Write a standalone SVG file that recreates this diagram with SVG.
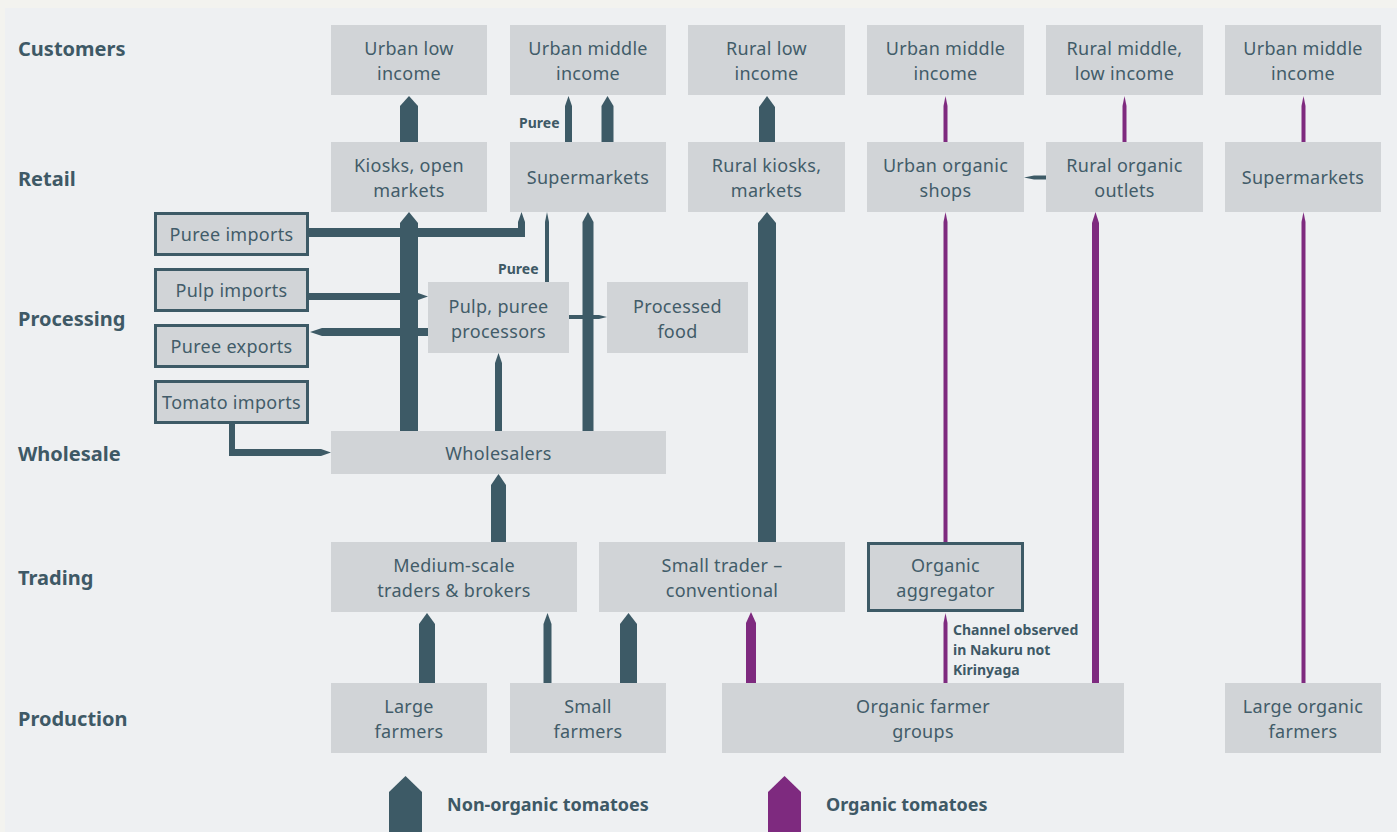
<svg xmlns="http://www.w3.org/2000/svg" width="1397" height="832" viewBox="0 0 1397 832">
<style>
.box{fill:#d1d4d7}
.bbox{fill:#d1d4d7;stroke:#3d5a66;stroke-width:3}
.t{font-family:"Noto Sans","Open Sans","DejaVu Sans",sans-serif;font-size:18px;fill:#425c69;text-anchor:middle;letter-spacing:0.3px}
.row{font-family:"Noto Sans","Open Sans","DejaVu Sans",sans-serif;font-size:20px;font-weight:bold;fill:#3e5966}
.note{font-family:"Noto Sans","Open Sans","DejaVu Sans",sans-serif;font-size:14px;font-weight:bold;fill:#3e5966}
.leg{font-family:"Noto Sans","Open Sans","DejaVu Sans",sans-serif;font-size:18px;font-weight:bold;fill:#3e5966}
.d{fill:#3d5a66}
.p{fill:#7e2a7f}
</style>
<rect x="0" y="0" width="1397" height="832" fill="#f3f3ef"/>
<rect x="5" y="8" width="1392" height="824" fill="#eef0f2"/>

<g id="row-labels">
<text class="row" x="18" y="56">Customers</text>
<text class="row" x="18" y="186">Retail</text>
<text class="row" x="18" y="326">Processing</text>
<text class="row" x="18" y="461">Wholesale</text>
<text class="row" x="18" y="585">Trading</text>
<text class="row" x="18" y="726">Production</text>
</g>

<g id="connectors">
<!-- non-organic -->
<polygon class="d" points="400,142 400,106 409,96 418,106 418,142"/>
<polygon class="d" points="565,142 565,106 568.5,96 572,106 572,142"/>
<polygon class="d" points="601.5,142 601.5,106 607.5,96 613.5,106 613.5,142"/>
<polygon class="d" points="759,142 759,107 767,96 775,107 775,142"/>
<polygon class="d" points="309,228 518,228 518,222 521.5,212 525,222 525,237 309,237"/>
<polygon class="d" points="309,293 418,293 428,296.5 418,300 309,300"/>
<polygon class="d" points="428,328 322,328 310,332 322,336 428,336"/>
<polygon class="d" points="229,424 235,424 235,449 321,449 331,452.5 321,456 229,456"/>
<polygon class="d" points="569,315 599,315 607,317 599,319 569,319"/>
<polygon class="d" points="400,431 400,223 409,212 418,223 418,431"/>
<polygon class="d" points="545,282 545,222 547,212 549,222 549,282"/>
<polygon class="d" points="582.5,431 582.5,222 588,212 593.5,222 593.5,431"/>
<polygon class="d" points="495,431 495,363 498.5,353 502,363 502,431"/>
<polygon class="d" points="491,542 491,485 498.5,474 506,485 506,542"/>
<polygon class="d" points="758,542 758,223 767,212 776,223 776,542"/>
<polygon class="d" points="419,683 419,624 427,613 435,624 435,683"/>
<polygon class="d" points="543.5,683 543.5,624 547.5,613 551.5,624 551.5,683"/>
<polygon class="d" points="620,683 620,624 628.5,613 637,624 637,683"/>
<polygon class="d" points="1046,175.5 1034,175.5 1024,177.5 1034,179.5 1046,179.5"/>
<!-- organic -->
<polygon class="p" points="746,683 746,623 751,612 756,623 756,683"/>
<polygon class="p" points="943.5,683 943.5,623 945.5,613 947.5,623 947.5,683"/>
<polygon class="p" points="943.5,542 943.5,222 945.5,212 947.5,222 947.5,542"/>
<polygon class="p" points="943.5,142 943.5,106 945.5,96 947.5,106 947.5,142"/>
<polygon class="p" points="1092,683 1092,223 1095.5,212 1099,223 1099,683"/>
<polygon class="p" points="1122.5,142 1122.5,106 1124.5,96 1126.5,106 1126.5,142"/>
<polygon class="p" points="1301.5,683 1301.5,222 1303.5,212 1305.5,222 1305.5,683"/>
<polygon class="p" points="1301.5,142 1301.5,106 1303.5,96 1305.5,106 1305.5,142"/>
</g>

<g id="labels">
<text class="note" x="519" y="128">Puree</text>
<text class="note" x="498" y="274">Puree</text>
<text class="note" x="953" y="635">Channel observed</text>
<text class="note" x="953" y="655">in Nakuru not</text>
<text class="note" x="953" y="675">Kirinyaga</text>
</g>

<g id="cust-urban-low"><rect class="box" x="331" y="25" width="156" height="70"/><text class="t" x="409" y="55">Urban low</text><text class="t" x="409" y="80">income</text></g>
<g id="cust-urban-middle-1"><rect class="box" x="510" y="25" width="156" height="70"/><text class="t" x="588" y="55">Urban middle</text><text class="t" x="588" y="80">income</text></g>
<g id="cust-rural-low"><rect class="box" x="688" y="25" width="157" height="70"/><text class="t" x="766.5" y="55">Rural low</text><text class="t" x="766.5" y="80">income</text></g>
<g id="cust-urban-middle-2"><rect class="box" x="867" y="25" width="157" height="70"/><text class="t" x="945.5" y="55">Urban middle</text><text class="t" x="945.5" y="80">income</text></g>
<g id="cust-rural-middle-low"><rect class="box" x="1046" y="25" width="157" height="70"/><text class="t" x="1124.5" y="55">Rural middle,</text><text class="t" x="1124.5" y="80">low income</text></g>
<g id="cust-urban-middle-3"><rect class="box" x="1225" y="25" width="156" height="70"/><text class="t" x="1303" y="55">Urban middle</text><text class="t" x="1303" y="80">income</text></g>

<g id="ret-kiosks"><rect class="box" x="331" y="142" width="156" height="70"/><text class="t" x="409" y="172">Kiosks, open</text><text class="t" x="409" y="197">markets</text></g>
<g id="ret-supermarkets-1"><rect class="box" x="510" y="142" width="156" height="70"/><text class="t" x="588" y="184">Supermarkets</text></g>
<g id="ret-rural-kiosks"><rect class="box" x="688" y="142" width="157" height="70"/><text class="t" x="766.5" y="172">Rural kiosks,</text><text class="t" x="766.5" y="197">markets</text></g>
<g id="ret-urban-organic"><rect class="box" x="867" y="142" width="157" height="70"/><text class="t" x="945.5" y="172">Urban organic</text><text class="t" x="945.5" y="197">shops</text></g>
<g id="ret-rural-organic"><rect class="box" x="1046" y="142" width="157" height="70"/><text class="t" x="1124.5" y="172">Rural organic</text><text class="t" x="1124.5" y="197">outlets</text></g>
<g id="ret-supermarkets-2"><rect class="box" x="1225" y="142" width="156" height="70"/><text class="t" x="1303" y="184">Supermarkets</text></g>

<g id="puree-imports"><rect class="bbox" x="155.5" y="213.5" width="152" height="41"/><text class="t" x="231.5" y="241">Puree imports</text></g>
<g id="pulp-imports"><rect class="bbox" x="155.5" y="269.5" width="152" height="41"/><text class="t" x="231.5" y="297">Pulp imports</text></g>
<g id="puree-exports"><rect class="bbox" x="155.5" y="325.5" width="152" height="41"/><text class="t" x="231.5" y="353">Puree exports</text></g>
<g id="tomato-imports"><rect class="bbox" x="155.5" y="381.5" width="152" height="41"/><text class="t" x="231.5" y="409">Tomato imports</text></g>

<g id="processors"><rect class="box" x="428" y="282" width="141" height="71"/><text class="t" x="498.5" y="313">Pulp, puree</text><text class="t" x="498.5" y="338">processors</text></g>
<g id="processed-food"><rect class="box" x="607" y="282" width="141" height="71"/><text class="t" x="677.5" y="313">Processed</text><text class="t" x="677.5" y="338">food</text></g>

<g id="wholesalers"><rect class="box" x="331" y="431" width="335" height="43"/><text class="t" x="498.5" y="460">Wholesalers</text></g>

<g id="medium-traders"><rect class="box" x="331" y="542" width="246" height="70"/><text class="t" x="454" y="572">Medium-scale</text><text class="t" x="454" y="597">traders &amp; brokers</text></g>
<g id="small-trader"><rect class="box" x="599" y="542" width="246" height="70"/><text class="t" x="722" y="572">Small trader –</text><text class="t" x="722" y="597">conventional</text></g>
<g id="organic-aggregator"><rect class="bbox" x="868.5" y="543.5" width="154" height="67"/><text class="t" x="945.5" y="572">Organic</text><text class="t" x="945.5" y="597">aggregator</text></g>

<g id="large-farmers"><rect class="box" x="331" y="683" width="156" height="70"/><text class="t" x="409" y="713">Large</text><text class="t" x="409" y="738">farmers</text></g>
<g id="small-farmers"><rect class="box" x="510" y="683" width="156" height="70"/><text class="t" x="588" y="713">Small</text><text class="t" x="588" y="738">farmers</text></g>
<g id="organic-farmer-groups"><rect class="box" x="722" y="683" width="402" height="70"/><text class="t" x="923" y="713">Organic farmer</text><text class="t" x="923" y="738">groups</text></g>
<g id="large-organic-farmers"><rect class="box" x="1225" y="683" width="156" height="70"/><text class="t" x="1303" y="713">Large organic</text><text class="t" x="1303" y="738">farmers</text></g>

<g id="legend">
<polygon class="d" points="389,832 389,792 405.5,776 422,792 422,832"/>
<text class="leg" x="447" y="811">Non-organic tomatoes</text>
<polygon class="p" points="768,832 768,792 784.5,776 801,792 801,832"/>
<text class="leg" x="826" y="811">Organic tomatoes</text>
</g>
</svg>
